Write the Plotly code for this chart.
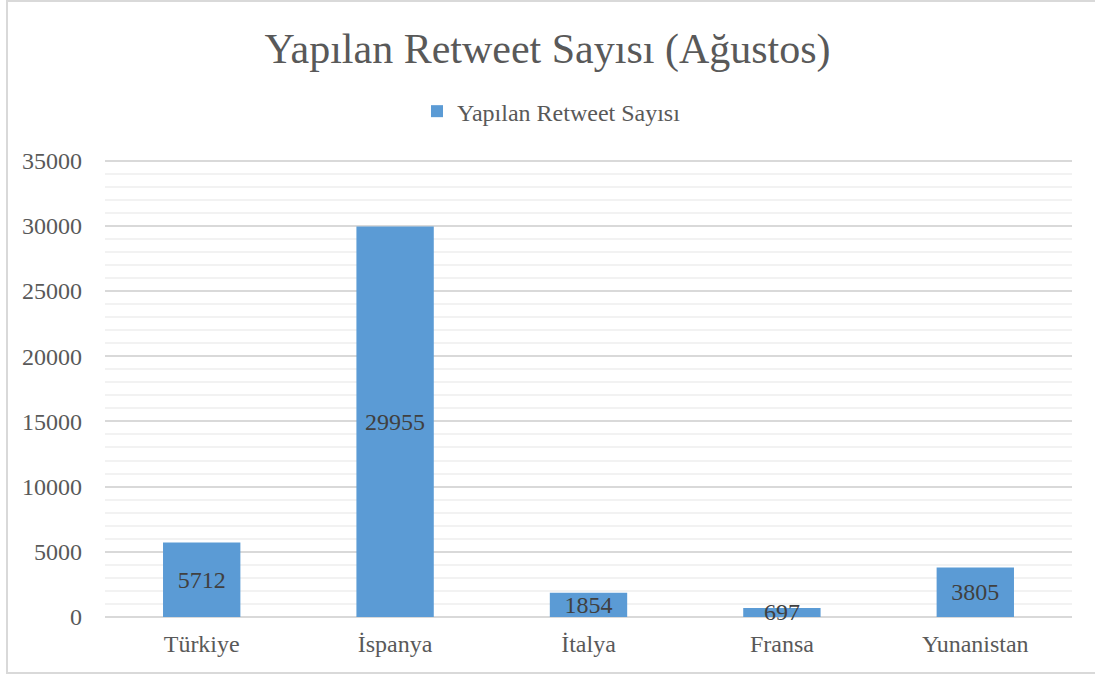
import plotly.graph_objects as go

categories = ["Türkiye", "İspanya", "İtalya", "Fransa", "Yunanistan"]
values = [5712, 29955, 1854, 697, 3805]
series_name = "Yapılan Retweet Sayısı"
title_text = "Yapılan Retweet Sayısı (Ağustos)"
y_ticks = [0, 5000, 10000, 15000, 20000, 25000, 30000, 35000]

FONT = "Liberation Serif, Times New Roman, serif"
GRAY = "#595959"

Y_TOP = 35200
L, R, B = 105, 1072, 617
PX_PER = 456 / 35000
T = B - PX_PER * Y_TOP
PW, PH = R - L, B - T

fig = go.Figure()
fig.add_trace(go.Bar(
    x=categories, y=values, name=series_name,
    marker=dict(color="#5B9BD5", line=dict(width=0)),
    text=[str(v) for v in values],
    textposition="inside", insidetextanchor="middle",
    constraintext="none", textangle=0, cliponaxis=False,
    textfont=dict(family=FONT, size=24, color="#404040"),
    showlegend=True,
))

fig.update_layout(
    width=1095, height=675,
    paper_bgcolor="white", plot_bgcolor="white",
    margin=dict(l=L, r=1095 - R, t=T, b=675 - B, autoexpand=False),
    title=dict(text=title_text, x=0.5, xanchor="center", y=1 - 48 / 675, yanchor="middle",
               font=dict(family=FONT, size=42, color=GRAY)),
    legend=dict(orientation="h", x=0.5 - 37 / PW, xanchor="center", y=(B - 112) / PH, yanchor="middle",
                font=dict(family=FONT, size=24, color=GRAY), itemwidth=30),
    bargap=0.6,
    font=dict(family=FONT, color=GRAY),
)
fig.update_xaxes(showgrid=False, showline=False, ticks="", automargin=False,
                 ticklabelstandoff=10,
                 tickfont=dict(family=FONT, size=24, color=GRAY))
fig.update_yaxes(range=[0, Y_TOP], tickvals=y_ticks, ticktext=[str(t) for t in y_ticks],
                 showgrid=True, gridcolor="#D9D9D9", gridwidth=1.5, automargin=False,
                 minor=dict(tickvals=[v for v in range(1000, 35000, 1000) if v % 5000],
                            showgrid=True, gridcolor="#F2F2F2", gridwidth=1.5),
                 zeroline=True, zerolinecolor="#D9D9D9", zerolinewidth=1.5,
                 ticks="", ticklabelstandoff=22,
                 tickfont=dict(family=FONT, size=24, color=GRAY))

fig.add_shape(type="rect", xref="paper", yref="paper",
              x0=(7 - L) / PW, x1=(1097 - L) / PW, y0=(B - 673) / PH, y1=(B - 1.5) / PH,
              line=dict(color="#D9D9D9", width=2), fillcolor="rgba(0,0,0,0)", layer="below")

fig.write_html("out.html", config={"displayModeBar": False},
               post_script="document.body.style.margin='0';document.body.style.padding='0';")
